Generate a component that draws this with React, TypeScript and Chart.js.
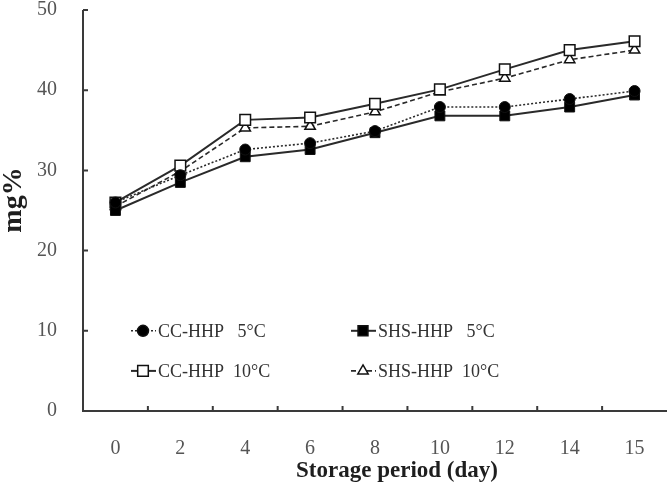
import React, { useEffect, useRef } from "react";
import { Chart, registerables } from "chart.js";

Chart.register(...registerables);

const days = ["0", "2", "4", "6", "8", "10", "12", "14", "15"];
const ccHhp5 = [26.0, 29.4, 32.6, 33.4, 34.9, 37.9, 37.9, 38.9, 39.9];
const shsHhp5 = [25.0, 28.5, 31.7, 32.6, 34.7, 36.8, 36.8, 37.9, 39.4];
const ccHhp10 = [26.0, 30.6, 36.3, 36.6, 38.3, 40.1, 42.6, 45.0, 46.1];
const shsHhp10 = [25.5, 29.9, 35.3, 35.5, 37.3, 39.8, 41.5, 43.8, 45.0];
const yTicks = [0, 10, 20, 30, 40, 50];
const seriesNames = ["CC-HHP   5°C", "SHS-HHP   5°C", "CC-HHP  10°C", "SHS-HHP  10°C"];
const xTitle = "Storage period (day)";
const yTitle = "mg%";

const ink = "#2a2a2a";
const serif = "'Liberation Serif', 'Times New Roman', serif";

function drawMarker(ctx: CanvasRenderingContext2D, style: string, x: number, y: number, r: number, fill: string) {
  ctx.save();
  ctx.fillStyle = fill;
  ctx.strokeStyle = "#111";
  ctx.lineWidth = 1.5;
  ctx.setLineDash([]);
  ctx.beginPath();
  if (style === "circle") {
    ctx.arc(x, y, r, 0, Math.PI * 2);
  } else if (style === "rect") {
    const s = Math.SQRT1_2 * r;
    ctx.rect(x - s, y - s, 2 * s, 2 * s);
  } else {
    ctx.moveTo(x, y - r);
    ctx.lineTo(x + r * 0.866, y + r * 0.5);
    ctx.lineTo(x - r * 0.866, y + r * 0.5);
    ctx.closePath();
  }
  ctx.fill();
  ctx.stroke();
  ctx.restore();
}

const decorPlugin = {
  id: "decor",
  afterDraw(chart: any) {
    const { ctx, chartArea, scales } = chart;
    const { left, right, top, bottom } = chartArea;
    const x = scales.x;
    const y = scales.y;
    ctx.save();
    // axes
    ctx.strokeStyle = "#3a3a3a";
    ctx.lineWidth = 2;
    ctx.setLineDash([]);
    ctx.beginPath();
    ctx.moveTo(left, top);
    ctx.lineTo(left, bottom);
    ctx.lineTo(right, bottom);
    ctx.stroke();
    ctx.beginPath();
    yTicks.forEach((v) => {
      const py = y.getPixelForValue(v);
      ctx.moveTo(left, py);
      ctx.lineTo(left + 5, py);
    });
    for (let i = 1; i < days.length; i++) {
      const px = (x.getPixelForValue(i - 1) + x.getPixelForValue(i)) / 2;
      ctx.moveTo(px, bottom);
      ctx.lineTo(px, bottom - 5);
    }
    ctx.stroke();

    // titles
    ctx.fillStyle = "#1e1e1e";
    ctx.font = `bold 23px ${serif}`;
    ctx.textAlign = "center";
    ctx.textBaseline = "alphabetic";
    ctx.fillText(xTitle, 397, 477);
    ctx.save();
    ctx.translate(21, 200);
    ctx.rotate(-Math.PI / 2);
    ctx.font = `bold 28px ${serif}`;
    ctx.fillText(yTitle, 0, 0);
    ctx.restore();

    // legend
    const rows = [y.getPixelForValue(10), y.getPixelForValue(5)];
    const cols = [left + 60, left + 280];
    chart.data.datasets.forEach((ds: any, i: number) => {
      const mx = cols[i % 2];
      const my = rows[Math.floor(i / 2)];
      ctx.save();
      ctx.strokeStyle = ds.borderColor;
      ctx.lineWidth = ds.borderWidth;
      ctx.setLineDash(ds.borderDash || []);
      ctx.beginPath();
      ctx.moveTo(mx - 12, my);
      ctx.lineTo(mx + 13, my);
      ctx.stroke();
      ctx.restore();
      drawMarker(ctx, ds.pointStyle, mx, my, ds.pointRadius, ds.pointBackgroundColor);
      ctx.fillStyle = "#333";
      ctx.font = `18px ${serif}`;
      ctx.textAlign = "left";
      ctx.textBaseline = "middle";
      ctx.fillText(ds.label, mx + 15, my + 1);
    });
    ctx.restore();
  },
};

export default function App() {
  const ref = useRef<HTMLCanvasElement | null>(null);
  useEffect(() => {
    if (!ref.current) return;
    const chart = new Chart(ref.current, {
      type: "line",
      data: {
        labels: days,
        datasets: [
          {
            label: seriesNames[0],
            data: ccHhp5,
            borderColor: ink,
            borderWidth: 1.6,
            borderDash: [2, 2],
            pointStyle: "circle",
            pointRadius: 5.5,
            pointBackgroundColor: "#000",
            pointBorderColor: "#111",
            pointBorderWidth: 1,
          },
          {
            label: seriesNames[1],
            data: shsHhp5,
            borderColor: ink,
            borderWidth: 2,
            pointStyle: "rect",
            pointRadius: 7,
            pointBackgroundColor: "#000",
            pointBorderColor: "#111",
            pointBorderWidth: 1,
          },
          {
            label: seriesNames[2],
            data: ccHhp10,
            borderColor: ink,
            borderWidth: 2,
            pointStyle: "rect",
            pointRadius: 7.5,
            pointBackgroundColor: "#fff",
            pointBorderColor: "#111",
            pointBorderWidth: 1.5,
          },
          {
            label: seriesNames[3],
            data: shsHhp10,
            borderColor: ink,
            borderWidth: 1.6,
            borderDash: [5, 3],
            pointStyle: "triangle",
            pointRadius: 6,
            pointBackgroundColor: "#fff",
            pointBorderColor: "#111",
            pointBorderWidth: 1.5,
          },
        ],
      },
      options: {
        responsive: false,
        animation: false,
        layout: { autoPadding: false, padding: { top: 10, right: 1, left: 0, bottom: 0 } },
        plugins: { legend: { display: false }, tooltip: { enabled: false } },
        scales: {
          x: {
            type: "category",
            offset: true,
            grid: { display: false, drawTicks: false, offset: true },
            border: { display: false },
            ticks: {
              font: { family: serif, size: 20 },
              color: "#555",
              padding: 26,
              maxRotation: 0,
              autoSkip: false,
            },
            afterFit: (s: any) => {
              s.height = 72;
              s.paddingLeft = 0;
              s.paddingRight = 0;
              s.paddingTop = 0;
              s.paddingBottom = 0;
            },
          },
          y: {
            min: 0,
            max: 50,
            grid: { display: false, drawTicks: false },
            border: { display: false },
            ticks: {
              stepSize: 10,
              font: { family: serif, size: 20 },
              color: "#555",
              padding: 26,
            },
            afterFit: (s: any) => {
              s.width = 83;
              s.paddingLeft = 0;
              s.paddingRight = 0;
              s.paddingTop = 0;
              s.paddingBottom = 0;
            },
          },
        },
      },
      plugins: [decorPlugin],
    });
    return () => chart.destroy();
  }, []);
  return (
    <div style={{ position: "absolute", left: 0, top: 0, width: 668, height: 483, background: "#fff" }}>
      <canvas ref={ref} width={668} height={483} />
    </div>
  );
}
